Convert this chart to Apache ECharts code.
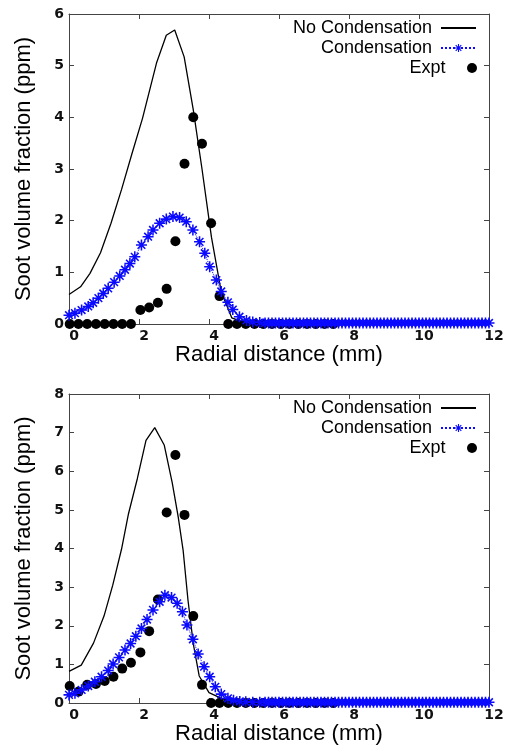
<!DOCTYPE html>
<html>
<head>
<meta charset="utf-8">
<script src="https://cdn.jsdelivr.net/npm/echarts@6.0.0/dist/echarts.min.js"></script>
<style>
  html, body { margin: 0; padding: 0; background: #fff; }
  #chart { width: 508px; height: 749px; }
</style>
</head>
<body>
<div id="chart"></div>
<script>
// radial positions (mm) and soot volume fraction (ppm)
const xTicks = [0, 2, 4, 6, 8, 10, 12];

const topNoCondX = [0, 0.33, 0.6, 0.9, 1.2, 1.5, 1.8, 2.1, 2.5, 2.78, 3.02, 3.29, 3.55, 3.8, 4.07, 4.35, 4.65, 5.0, 5.5, 12];
const topNoCondY = [0.57, 0.72, 0.98, 1.38, 1.95, 2.6, 3.3, 3.98, 5.05, 5.59, 5.69, 5.17, 4.15, 3.0, 1.68, 0.62, 0.12, 0.03, 0.01, 0];

const topCondX = [0, 0.17, 0.36, 0.55, 0.69, 0.84, 0.98, 1.12, 1.29, 1.45, 1.6, 1.74, 1.88, 2.07, 2.26, 2.4, 2.59, 2.78, 2.97, 3.16, 3.35, 3.54, 3.73, 3.88, 4.02, 4.21, 4.35, 4.54, 4.68, 4.87, 5.07, 5.25, 5.45];
const topCondY = [0.17, 0.21, 0.27, 0.34, 0.41, 0.5, 0.59, 0.69, 0.81, 0.93, 1.05, 1.17, 1.3, 1.53, 1.69, 1.82, 1.95, 2.03, 2.08, 2.06, 1.98, 1.82, 1.59, 1.37, 1.11, 0.85, 0.63, 0.42, 0.28, 0.14, 0.07, 0.04, 0.03];

const botNoCondX = [0, 0.35, 0.7, 1.0, 1.25, 1.5, 1.7, 1.95, 2.2, 2.45, 2.72, 2.95, 3.12, 3.26, 3.4, 3.55, 3.72, 4.0, 4.4, 4.8, 5.5, 12];
const botNoCondY = [0.82, 0.98, 1.55, 2.25, 3.05, 3.98, 4.9, 5.8, 6.8, 7.13, 6.68, 5.7, 4.82, 3.96, 2.66, 1.54, 0.7, 0.27, 0.1, 0.03, 0.01, 0];

const botCondX = [0, 0.17, 0.36, 0.55, 0.74, 0.93, 1.12, 1.26, 1.43, 1.6, 1.76, 1.91, 2.07, 2.23, 2.4, 2.59, 2.74, 2.93, 3.09, 3.24, 3.37, 3.54, 3.69, 3.86, 4.02, 4.18, 4.35, 4.54, 4.7, 4.88, 5.05, 5.25, 5.45];
const botCondY = [0.21, 0.25, 0.34, 0.44, 0.55, 0.68, 0.84, 1.01, 1.18, 1.37, 1.54, 1.73, 1.93, 2.16, 2.41, 2.62, 2.79, 2.73, 2.58, 2.36, 2.02, 1.65, 1.27, 0.94, 0.68, 0.42, 0.23, 0.12, 0.07, 0.04, 0.03, 0.02, 0.02];

// flat tail of the condensation runs (both plots)
const condTailX = [5.6, 5.7, 5.8, 5.9, 6.0, 6.1, 6.2, 6.3, 6.4, 6.5, 6.6, 6.7, 6.8, 6.9, 7.0, 7.1, 7.2, 7.3, 7.4, 7.5, 7.6, 7.7, 7.8, 7.9, 8.0, 8.1, 8.2, 8.3, 8.4, 8.5, 8.6, 8.7, 8.8, 8.9, 9.0, 9.1, 9.2, 9.3, 9.4, 9.5, 9.6, 9.7, 9.8, 9.9, 10.0, 10.1, 10.2, 10.3, 10.4, 10.5, 10.6, 10.7, 10.8, 10.9, 11.0, 11.1, 11.2, 11.3, 11.4, 11.5, 11.6, 11.7, 11.8, 11.9, 12.0];
const condTailY = [0.02, 0.02, 0.02, 0.02, 0.02, 0.02, 0.02, 0.02, 0.02, 0.02, 0.02, 0.02, 0.02, 0.02, 0.02, 0.02, 0.02, 0.02, 0.02, 0.02, 0.02, 0.02, 0.02, 0.02, 0.02, 0.02, 0.02, 0.02, 0.02, 0.02, 0.02, 0.02, 0.02, 0.02, 0.02, 0.02, 0.02, 0.02, 0.02, 0.02, 0.02, 0.02, 0.02, 0.02, 0.02, 0.02, 0.02, 0.02, 0.02, 0.02, 0.02, 0.02, 0.02, 0.02, 0.02, 0.02, 0.02, 0.02, 0.02, 0.02, 0.02, 0.02, 0.02, 0.02, 0.02];

const exptX = [0.02, 0.27, 0.52, 0.77, 1.02, 1.27, 1.52, 1.77, 2.04, 2.29, 2.54, 2.79, 3.04, 3.3, 3.55, 3.8, 4.06, 4.3, 4.55, 4.8, 5.05, 5.3, 5.55, 5.8, 6.05, 6.3, 6.55, 6.8, 7.05, 7.3, 7.55];
const topExptY = [0, 0, 0, 0, 0, 0, 0, 0, 0.27, 0.32, 0.41, 0.68, 1.6, 3.1, 4.0, 3.49, 1.95, 0.54, 0, 0, 0, 0, 0, 0, 0, 0, 0, 0, 0, 0, 0];
const botExptY = [0.44, 0.29, 0.47, 0.49, 0.57, 0.68, 0.89, 1.04, 1.31, 1.86, 2.68, 4.93, 6.42, 4.87, 2.25, 0.47, 0, 0, 0, 0, 0, 0, 0, 0, 0, 0, 0, 0, 0, 0, 0];

const pairs = (xs, ys) => xs.map((x, i) => [x, ys[i]]);

// gnuplot style "*" point: plus and cross on top of each other
const starSymbol = 'path://M-0.7,-5L0.7,-5L0.7,5L-0.7,5Z' +
  'M-5,-0.7L5,-0.7L5,0.7L-5,0.7Z' +
  'M-4.0,-3.0L-3.0,-4.0L4.0,3.0L3.0,4.0Z' +
  'M-4.0,3.0L3.0,-4.0L4.0,-3.0L-3.0,4.0Z';
const blue = '#0a0aff';

const titleFont = { fontFamily: 'Liberation Sans', fontSize: 22, color: '#000' };
const tickLabel = { fontFamily: 'DejaVu Sans', fontWeight: 'bold', fontSize: 14, color: '#111' };
const frame = { show: true, onZero: false, lineStyle: { color: '#444', width: 1 } };
const ticks = { show: true, inside: true, length: 5, lineStyle: { color: '#444' } };

const grids = [
    { left: 69, top: 14, width: 420, height: 310 },
    { left: 69, top: 394, width: 420, height: 309 },
];
const yMax = [6, 8];

const xAxes = [];
const yAxes = [];
grids.forEach((g, i) => {
    xAxes.push({
        type: 'value', gridIndex: i, position: 'bottom', min: 0, max: 12, interval: 2,
        axisLine: frame, axisTick: ticks, splitLine: { show: false },
        axisLabel: Object.assign({ margin: 5, padding: [0, 0, 0, 10] }, tickLabel),
        name: 'Radial distance (mm)', nameLocation: 'middle', nameGap: 17, nameTextStyle: titleFont,
    });
    xAxes.push({
        type: 'value', gridIndex: i, position: 'top', min: 0, max: 12, interval: 2,
        axisLine: frame, axisTick: ticks, splitLine: { show: false }, axisLabel: { show: false },
    });
    yAxes.push({
        type: 'value', gridIndex: i, position: 'left', min: 0, max: yMax[i], interval: 1,
        axisLine: frame, axisTick: ticks, splitLine: { show: false },
        axisLabel: Object.assign({ margin: 5 }, tickLabel),
        name: 'Soot volume fraction (ppm)', nameLocation: 'middle', nameGap: 34, nameTextStyle: titleFont,
    });
    yAxes.push({
        type: 'value', gridIndex: i, position: 'right', min: 0, max: yMax[i], interval: 1,
        axisLine: frame, axisTick: ticks, splitLine: { show: false }, axisLabel: { show: false },
    });
});

function seriesFor(i, noCond, cond, expt) {
    const axes = { xAxisIndex: i * 2, yAxisIndex: i * 2 };
    return [
        Object.assign({
            name: 'No Condensation', type: 'line', data: noCond, symbol: 'none',
            lineStyle: { color: '#000', width: 1.3 }, itemStyle: { color: '#000' },
        }, axes),
        Object.assign({
            name: 'Condensation', type: 'line', data: cond, symbol: starSymbol, symbolSize: 11,
            lineStyle: { color: blue, width: 1, type: 'dotted' }, itemStyle: { color: blue },
        }, axes),
        Object.assign({
            name: 'Expt', type: 'scatter', data: expt, symbol: 'circle', symbolSize: 10,
            itemStyle: { color: '#000', opacity: 1 },
        }, axes),
    ];
}

const legendNames = ['No Condensation', 'Condensation', 'Expt'];
const legendTops = [[18, 38, 58], [398, 418, 438]];
const legends = [];
legendTops.forEach(tops => {
    tops.forEach((t, k) => {
        const lg = {
            data: [legendNames[k]], top: t, right: 31, orient: 'vertical', align: 'right',
            padding: 0, itemWidth: 35, itemHeight: 10, selectedMode: false,
            textStyle: { fontFamily: 'Liberation Sans', fontSize: 18, color: '#000', lineHeight: 20, padding: [0, 4, 0, 0] },
        };
        if (k === 0) {
            // plain line only, hide the default marker
            lg.itemStyle = { color: 'rgba(0,0,0,0)', borderColor: 'rgba(0,0,0,0)', borderWidth: 0 };
        }
        legends.push(lg);
    });
});

const chart = echarts.init(document.getElementById('chart'));
chart.setOption({
    animation: false,
    backgroundColor: '#fff',
    grid: grids,
    xAxis: xAxes,
    yAxis: yAxes,
    legend: legends,
    series: [].concat(
        seriesFor(0, pairs(topNoCondX, topNoCondY), pairs(topCondX.concat(condTailX), topCondY.concat(condTailY)), pairs(exptX, topExptY)),
        seriesFor(1, pairs(botNoCondX, botNoCondY), pairs(botCondX.concat(condTailX), botCondY.concat(condTailY)), pairs(exptX, botExptY))
    ),
});
</script>
</body>
</html>
